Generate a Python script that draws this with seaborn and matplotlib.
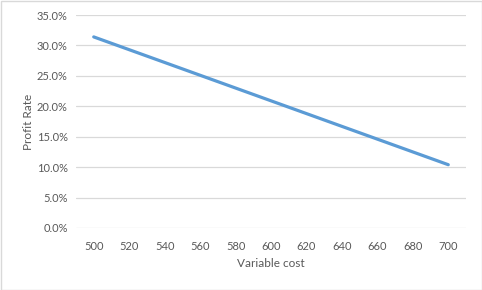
import matplotlib
matplotlib.use("Agg")
import matplotlib.pyplot as plt
import seaborn as sns
import pandas as pd
from matplotlib.ticker import PercentFormatter
from matplotlib.patches import Rectangle

variable_cost = [500, 520, 540, 560, 580, 600, 620, 640, 660, 680, 700]
profit_rate = [0.314, 0.293, 0.272, 0.251, 0.230, 0.209, 0.188, 0.167, 0.146, 0.125, 0.104]

df = pd.DataFrame({"Variable cost": variable_cost, "Profit Rate": profit_rate})

sns.set_style("white")
plt.rcParams['font.family'] = ['Lato', 'DejaVu Sans']

fig = plt.figure(figsize=(4.82, 2.9), dpi=100)
ax = fig.add_axes([76/482, 1-228/290, 390/482, 213/290])

sns.lineplot(data=df, x="Variable cost", y="Profit Rate", ax=ax,
             color="#5B9BD5", linewidth=2.3, solid_capstyle="round")

ax.set_xlim(490, 710)
ax.set_ylim(0, 0.35)
ax.set_xticks(variable_cost)
ax.set_yticks([i * 0.05 for i in range(8)])
ax.yaxis.set_major_formatter(PercentFormatter(1.0, decimals=1))
ax.grid(axis="y", color="#D9D9D9", linewidth=0.9)
ax.set_axisbelow(True)
for s in ax.spines.values():
    s.set_visible(False)
ax.tick_params(axis="both", length=0, labelsize=8, labelcolor="#595959")
ax.tick_params(axis="y", pad=6)
ax.tick_params(axis="x", pad=9)
ax.set_xlabel("Variable cost", fontsize=8.5, color="#595959", labelpad=5)
ax.set_ylabel("Profit Rate", fontsize=8.5, color="#595959", labelpad=2)

fig.patches.append(Rectangle((0.5/482, 0.5/290), 481/482, 289/290, transform=fig.transFigure,
                             fill=False, edgecolor="#D9D9D9", linewidth=1))

fig.savefig("out.png", dpi=100)
